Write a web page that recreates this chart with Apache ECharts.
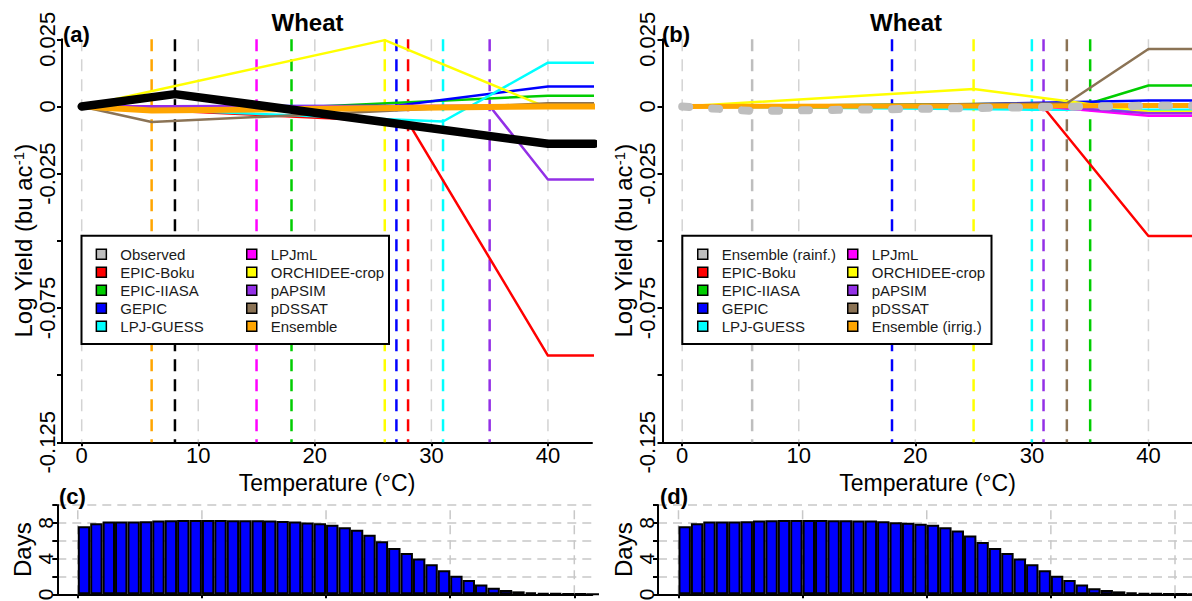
<!DOCTYPE html>
<html>
<head>
<meta charset="utf-8">
<script src="https://cdn.jsdelivr.net/npm/echarts@6/dist/echarts.min.js"></script>
<style>
  html, body { margin: 0; padding: 0; background: #ffffff; }
  #chart { width: 1192px; height: 601px; }
</style>
</head>
<body>
<div id="chart"></div>
<script>
// ---- Temperature-response of wheat log yield (bu ac^-1): [temperature °C, value] knots ----
// (a) rainfed models, observed and ensemble
const observedA  = [[0, 0], [8, 0.0046], [40, -0.0139], [44, -0.0139]];
const epicBokuA  = [[0, 0], [28, -0.0058], [40, -0.0927], [44, -0.0927]];
const epicIiasaA = [[0, 0], [18, -0.0005], [40, 0.0040], [44, 0.0040]];
const gepicA     = [[0, 0], [27, 0.0003], [40, 0.0074], [44, 0.0074]];
const lpjGuessA  = [[0, 0], [31, -0.0056], [40, 0.0163], [44, 0.0163]];
const lpjmlA     = [[0, 0], [15, 0.0000], [40, 0.0003], [44, 0.0003]];
const orchideeA  = [[0, 0], [26, 0.0247], [40, -0.0005], [44, -0.0005]];
const papsimA    = [[0, 0], [35, 0.0002], [40, -0.0272], [44, -0.0272]];
const pdssatA    = [[0, 0], [6, -0.0058], [40, 0.0012], [44, 0.0012]];
const ensembleA  = [[0, 0], [6, -0.0015], [40, 0.0000], [44, 0.0000]];

// (b) irrigated models with rainfed / irrigated ensembles
const ensRainfB  = [[0, 0], [6, -0.0017], [40, 0.0003], [44, 0.0003]];
const epicBokuB  = [[0, 0], [31, -0.0003], [40, -0.0482], [44, -0.0482]];
const epicIiasaB = [[0, 0], [35, 0.0012], [40, 0.0078], [44, 0.0078]];
const gepicB     = [[0, 0], [18, 0.0002], [40, 0.0022], [44, 0.0022]];
const lpjGuessB  = [[0, 0], [30, -0.0012], [40, -0.0012], [44, -0.0012]];
const lpjmlB     = [[0, 0], [31, 0.0000], [40, -0.0035], [44, -0.0035]];
const orchideeB  = [[0, 0], [25, 0.0065], [40, -0.0020], [44, -0.0020]];
const papsimB    = [[0, 0], [31, 0.0003], [40, -0.0025], [44, -0.0025]];
const pdssatB    = [[0, 0], [33, 0.0012], [40, 0.0214], [44, 0.0214]];
const ensIrrigB  = [[0, 0], [30, 0.0002], [40, 0.0004], [44, 0.0004]];

// Threshold temperatures (vertical dashed markers)
const threshNamesA = ['Ensemble', 'Observed', 'LPJmL', 'EPIC-IIASA', 'ORCHIDEE-crop', 'GEPIC', 'EPIC-Boku', 'LPJ-GUESS', 'pAPSIM'];
const threshTempsA = [6, 8, 15, 18, 26, 27, 28, 31, 35];
const threshNamesB = ['Ensemble (rainf.)', 'GEPIC', 'ORCHIDEE-crop', 'LPJ-GUESS', 'pAPSIM', 'pDSSAT', 'EPIC-IIASA'];
const threshTempsB = [6, 18, 25, 30, 31, 33, 35];

// Axis tick labels
const tempTicks = [0, 10, 20, 30, 40];
const yieldTickLabels = ['0.025', '0', '-0.025', '-0.075', '-0.125'];
const dayTickLabels = ['0', '4', '8'];

// (c), (d) days spent in each 1 °C temperature bin
const daysC = [7.63, 7.96, 8.15, 8.15, 8.15, 8.19, 8.26, 8.30, 8.33, 8.33, 8.33, 8.33, 8.30, 8.30,
               8.30, 8.26, 8.22, 8.15, 8.04, 7.96, 7.78, 7.52, 7.22, 6.67, 5.93, 5.19, 4.63, 4.00,
               3.37, 2.70, 2.07, 1.59, 1.11, 0.74, 0.48, 0.33, 0.22, 0.15, 0.11, 0.07, 0.04, 0.03];
const daysD = [7.63, 7.96, 8.15, 8.15, 8.15, 8.19, 8.26, 8.30, 8.33, 8.33, 8.33, 8.33, 8.30, 8.30,
               8.26, 8.26, 8.19, 8.07, 8.00, 7.89, 7.78, 7.52, 7.15, 6.59, 5.85, 5.19, 4.63, 4.00,
               3.37, 2.70, 2.07, 1.59, 1.11, 0.67, 0.48, 0.33, 0.22, 0.15, 0.11, 0.07, 0.04, 0.03];

// Legend columns
const legendA1 = ['Observed', 'EPIC-Boku', 'EPIC-IIASA', 'GEPIC', 'LPJ-GUESS'];
const legendA2 = ['LPJmL', 'ORCHIDEE-crop', 'pAPSIM', 'pDSSAT', 'Ensemble'];
const legendB1 = ['Ensemble (rainf.)', 'EPIC-Boku', 'EPIC-IIASA', 'GEPIC', 'LPJ-GUESS'];
const legendB2 = ['LPJmL', 'ORCHIDEE-crop', 'pAPSIM', 'pDSSAT', 'Ensemble (irrig.)'];

// ---- Styling ----
const FONT = '"Liberation Sans", Arial, Helvetica, sans-serif';
const COLORS = {
  'Observed': '#000000',
  'EPIC-Boku': '#FF0000',
  'EPIC-IIASA': '#00CD00',
  'GEPIC': '#0000FF',
  'LPJ-GUESS': '#00FFFF',
  'LPJmL': '#FF00FF',
  'ORCHIDEE-crop': '#FFFF00',
  'pAPSIM': '#9330E6',
  'pDSSAT': '#8B7355',
  'Ensemble': '#FFA500',
  'Ensemble (rainf.)': '#BEBEBE',
  'Ensemble (irrig.)': '#FFA500'
};
const SWATCH_OVERRIDE = { 'Observed': '#BEBEBE' };
const GRID_GRAY = '#D3D3D3';

const series = [];
let zc = 3;

function vline(t, xi, color, width) {
  series.push({
    type: 'line', xAxisIndex: xi, yAxisIndex: xi, silent: true, symbol: 'none', z: 2,
    data: [[t, 0.025], [t, -0.125]],
    lineStyle: { color: color, width: width, type: [12, 8] }
  });
}
function curve(name, data, xi, width) {
  series.push({
    name: name, type: 'line', xAxisIndex: xi, yAxisIndex: xi, silent: true, symbol: 'none',
    z: zc++, data: data, color: COLORS[name],
    itemStyle: { color: COLORS[name] },
    lineStyle: { color: COLORS[name], width: width, cap: 'round', join: 'round' }
  });
}

// Panel (a)
tempTicks.forEach(t => vline(t, 0, GRID_GRAY, 1.5));
threshTempsA.forEach((t, i) => vline(t, 0, COLORS[threshNamesA[i]], 2.5));
curve('EPIC-Boku', epicBokuA, 0, 2.5);
curve('EPIC-IIASA', epicIiasaA, 0, 2.5);
curve('GEPIC', gepicA, 0, 2.5);
curve('LPJ-GUESS', lpjGuessA, 0, 2.5);
curve('LPJmL', lpjmlA, 0, 2.5);
curve('ORCHIDEE-crop', orchideeA, 0, 2.5);
curve('pAPSIM', papsimA, 0, 2.5);
curve('pDSSAT', pdssatA, 0, 2.5);
curve('Ensemble', ensembleA, 0, 6);
curve('Observed', observedA, 0, 8.5);

// Panel (b)
tempTicks.forEach(t => vline(t, 1, GRID_GRAY, 1.5));
threshTempsB.forEach((t, i) => vline(t, 1, COLORS[threshNamesB[i]], 2.5));
curve('EPIC-Boku', epicBokuB, 1, 2.5);
curve('EPIC-IIASA', epicIiasaB, 1, 2.5);
curve('GEPIC', gepicB, 1, 2.5);
curve('LPJ-GUESS', lpjGuessB, 1, 2.5);
curve('LPJmL', lpjmlB, 1, 2.5);
curve('ORCHIDEE-crop', orchideeB, 1, 2.5);
curve('pAPSIM', papsimB, 1, 2.5);
curve('pDSSAT', pdssatB, 1, 2.5);
curve('Ensemble (irrig.)', ensIrrigB, 1, 5);
curve('Ensemble (rainf.)', ensRainfB, 1, 8);
series[series.length - 1].lineStyle.type = [7, 23];

// Panels (c), (d): histogram of days per temperature bin
function histogram(days, xi) {
  tempTicks.forEach(t => series.push({
    type: 'line', xAxisIndex: xi, yAxisIndex: xi, silent: true, symbol: 'none', z: 1,
    data: [[t, 0], [t, 10]],
    lineStyle: { color: '#C8C8C8', width: 1.5, type: [9, 6] }
  }));
  series.push({
    type: 'bar', xAxisIndex: xi, yAxisIndex: xi, silent: true, z: 3,
    data: days.map((d, i) => [i + 0.5, d]),
    barWidth: 12.4,
    itemStyle: { color: '#0000FF', borderColor: '#000000', borderWidth: 2 }
  });
}
histogram(daysC, 2);
histogram(daysD, 3);

// ---- Axes ----
function tempAxis(gi) {
  return {
    gridIndex: gi, type: 'value', min: -1.69, max: 43.78,
    axisLine: { show: true, onZero: false, lineStyle: { color: '#000', width: 2 } },
    axisTick: { show: true, customValues: tempTicks, length: 4, lineStyle: { color: '#000', width: 2 } },
    axisLabel: { customValues: tempTicks, fontSize: 22, color: '#000', margin: 2, fontFamily: FONT },
    splitLine: { show: false },
    name: 'Temperature (°C)', nameLocation: 'middle', nameGap: 27,
    nameTextStyle: { fontSize: 23, color: '#000', fontFamily: FONT }
  };
}
function yieldAxis(gi) {
  return {
    gridIndex: gi, type: 'value', min: -0.125, max: 0.025, interval: 0.025,
    axisLine: { show: true, onZero: false, lineStyle: { color: '#000', width: 2 } },
    axisTick: { show: true, length: 5, lineStyle: { color: '#000', width: 2 } },
    axisLabel: {
      rotate: 90, fontSize: 22, color: '#000', margin: 4, fontFamily: FONT,
      showMinLabel: true, showMaxLabel: true, hideOverlap: false,
      formatter: v => {
        const s = Math.abs(v) < 1e-9 ? '0' : (Math.round(v * 1000) / 1000).toFixed(3);
        return yieldTickLabels.indexOf(s) >= 0 ? s : '';
      }
    },
    splitLine: { show: false },
    name: 'Log Yield (bu ac{s|-1})', nameLocation: 'middle', nameGap: 27,
    nameTextStyle: {
      fontSize: 24, color: '#000', fontFamily: FONT,
      rich: { s: { fontSize: 15, color: '#000', fontFamily: FONT, verticalAlign: 'top', lineHeight: 14 } }
    }
  };
}
function binAxis(gi) {
  return {
    gridIndex: gi, type: 'value', min: -1.65, max: 41.45,
    axisLine: { show: true, onZero: false, lineStyle: { color: '#000', width: 2 } },
    axisTick: { show: true, customValues: tempTicks, length: 4, lineStyle: { color: '#000', width: 2 } },
    axisLabel: { show: false },
    splitLine: { show: false }
  };
}
function daysAxis(gi) {
  return {
    gridIndex: gi, type: 'value', min: 0, max: 10, interval: 2,
    axisLine: { show: true, onZero: false, lineStyle: { color: '#000', width: 2 } },
    axisTick: { show: true, length: 5, lineStyle: { color: '#000', width: 2 } },
    axisLabel: {
      rotate: 90, fontSize: 21, color: '#000', margin: 1, fontFamily: FONT,
      showMinLabel: true, hideOverlap: false,
      formatter: v => (dayTickLabels.indexOf(String(v)) >= 0 ? String(v) : '')
    },
    splitLine: { show: true, lineStyle: { color: '#C8C8C8', width: 1.5, type: [9, 6] } },
    name: 'Days', nameLocation: 'middle', nameGap: 21,
    nameTextStyle: { fontSize: 24, color: '#000', fontFamily: FONT }
  };
}

// ---- Legends ----
function legendCol(names, left) {
  return {
    data: names.map(n => SWATCH_OVERRIDE[n] ? { name: n, itemStyle: { color: SWATCH_OVERRIDE[n] } } : n),
    orient: 'vertical', left: left, top: 245.3, padding: 0, itemGap: 0,
    itemWidth: 10, itemHeight: 10, icon: 'rect', selectedMode: false, z: 50,
    itemStyle: { borderColor: '#000', borderWidth: 1.5 },
    textStyle: { fontSize: 15, lineHeight: 18, color: '#1a1a1a', fontFamily: FONT, padding: [0, 0, 0, 9] }
  };
}

function label(text, x, y, size, align) {
  return {
    type: 'text', x: x, y: y, z: 60,
    style: { text: text, fill: '#000', font: 'bold ' + size + 'px ' + FONT,
             textAlign: align || 'left', textVerticalAlign: 'middle' }
  };
}

const option = {
  animation: false,
  backgroundColor: '#ffffff',
  grid: [
    { left: 62, top: 39.3, width: 530, height: 403, outerBoundsMode: 'none' },
    { left: 662.5, top: 39.3, width: 530, height: 403, outerBoundsMode: 'none' },
    { left: 57.3, top: 505, width: 535, height: 89.3, outerBoundsMode: 'none' },
    { left: 658, top: 505, width: 535, height: 89.3, outerBoundsMode: 'none' }
  ],
  xAxis: [tempAxis(0), tempAxis(1), binAxis(2), binAxis(3)],
  yAxis: [yieldAxis(0), yieldAxis(1), daysAxis(2), daysAxis(3)],
  legend: [legendCol(legendA1, 95.6), legendCol(legendA2, 246), legendCol(legendB1, 697), legendCol(legendB2, 847)],
  graphic: [
    { type: 'rect', z: 40, shape: { x: 81.5, y: 235.7, width: 307.5, height: 108.3 },
      style: { fill: '#ffffff', stroke: '#000', lineWidth: 2 } },
    { type: 'rect', z: 40, shape: { x: 682.3, y: 235.7, width: 309.2, height: 108.3 },
      style: { fill: '#ffffff', stroke: '#000', lineWidth: 2 } },
    label('Wheat', 307.5, 22.5, 24, 'center'),
    label('Wheat', 906, 22.5, 24, 'center'),
    label('(a)', 63, 34, 22),
    label('(b)', 662, 34, 22),
    label('(c)', 59, 496, 22),
    label('(d)', 660, 496, 22)
  ],
  series: series
};

const chart = echarts.init(document.getElementById('chart'), null, { renderer: 'svg' });
chart.setOption(option);
</script>
</body>
</html>
